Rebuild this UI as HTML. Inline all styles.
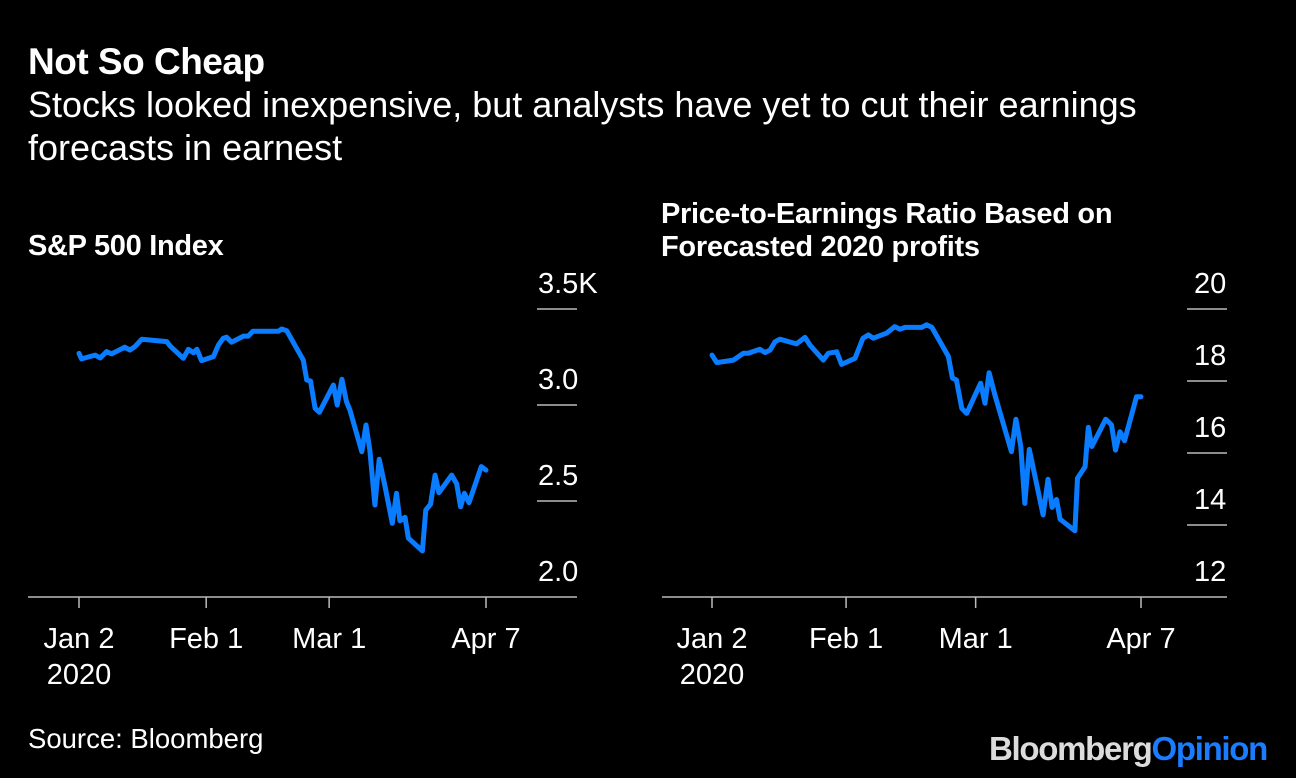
<!DOCTYPE html>
<html><head><meta charset="utf-8">
<style>
html,body{margin:0;padding:0;background:#000;}
body{width:1296px;height:778px;overflow:hidden;font-family:"Liberation Sans",sans-serif;color:#fff;position:relative;}
.t{position:absolute;white-space:nowrap;}
</style></head>
<body>
<div class="t" style="left:28px;top:41px;font-size:37px;font-weight:bold;letter-spacing:-0.5px;">Not So Cheap</div>
<div class="t" style="left:28px;top:83px;font-size:36px;line-height:43px;white-space:normal;width:1260px;">Stocks looked inexpensive, but analysts have yet to cut their earnings<br>forecasts in earnest</div>
<div class="t" style="left:28px;top:230px;font-size:29px;font-weight:bold;letter-spacing:-0.3px;">S&amp;P 500 Index</div>
<div class="t" style="left:661px;top:198px;font-size:29px;font-weight:bold;line-height:33px;letter-spacing:-0.3px;">Price-to-Earnings Ratio Based on<br>Forecasted 2020 profits</div>
<div class="t" style="left:28px;top:723px;font-size:27.5px;">Source: Bloomberg</div>
<div class="t" style="left:989px;top:730px;font-size:33px;font-weight:bold;letter-spacing:-1.3px;color:#dcdcdc;">Bloomberg<span style="color:#1a7cff">Opinion</span></div>
<svg id="svg" width="1296" height="778" style="position:absolute;left:0;top:0"></svg>
<script>
const spDays=[0,0.6,3.8,5,6.5,7.7,10.8,12,13.2,14.8,20.7,21.5,24.6,25.8,27,27.8,28.9,31.7,32.9,34,34.8,36,38.8,39.9,41,47,47.8,49,52.9,53.7,54.6,55.7,56.7,60,60.9,62,63.1,63.9,66.7,67.7,68.6,69.8,70.8,72.2,73.9,74.9,75.7,76.9,77.7,81,81.8,82.9,84,84.9,87.9,89.1,90,90.9,92,94.9,96];
const spValues=[3.269,3.240,3.260,3.245,3.278,3.266,3.301,3.286,3.304,3.342,3.330,3.307,3.243,3.290,3.272,3.290,3.231,3.252,3.313,3.347,3.353,3.327,3.359,3.359,3.384,3.384,3.396,3.387,3.234,3.130,3.125,2.983,2.962,3.104,3.000,3.134,3.017,2.974,2.757,2.896,2.766,2.479,2.717,2.574,2.384,2.540,2.397,2.415,2.306,2.240,2.453,2.483,2.635,2.543,2.635,2.589,2.470,2.540,2.491,2.679,2.661];
const peDays=[0,1.05,4.8,7,8.1,10.7,11.9,13,14.1,15.2,18.9,20.8,21.9,24.9,26,27.9,29,32,33.8,35,36.1,39.1,40.9,42.1,43.2,46.9,48,49.2,52.9,53.8,54.7,55.9,57,60.1,61.1,62,63.3,67,68,69.1,70,71,74.1,75.2,76.1,77.1,77.9,81.2,81.8,83.5,84.2,85,88.1,89.4,90.3,91.3,92.3,95,96];
const peValues=[18.72,18.51,18.58,18.77,18.77,18.88,18.79,18.86,19.09,19.16,19.03,19.21,19.0,18.58,18.77,18.81,18.46,18.63,19.19,19.28,19.19,19.33,19.51,19.44,19.49,19.49,19.56,19.49,18.68,18.08,18.03,17.24,17.10,17.94,17.38,18.23,17.61,16.04,16.94,16.18,14.60,16.10,14.28,15.27,14.49,14.71,14.16,13.84,15.30,15.62,16.71,16.18,16.94,16.78,16.08,16.59,16.34,17.56,17.56];
const xTickDays=[0,30,59,96];
const xTickLabels=["Jan 2","Feb 1","Mar 1","Apr 7"];
const spTicks=[2.0,2.5,3.0,3.5];
const spTickLabels=["2.0","2.5","3.0","3.5K"];
const peTicks=[12,14,16,18,20];
const peTickLabels=["12","14","16","18","20"];

const svg=document.getElementById('svg');
const NS='http://www.w3.org/2000/svg';
function mk(tag,attrs){const e=document.createElementNS(NS,tag);for(const k in attrs)e.setAttribute(k,attrs[k]);svg.appendChild(e);return e;}

function panel(p){
  const xs=d=>p.x0+(d/96)*(p.x1-p.x0);
  const ys=v=>p.yBase-(v-p.vMin)/(p.vMax-p.vMin)*(p.yBase-p.yTop);
  const base=mk('line',{x1:p.left,x2:p.right,y1:p.yBase,y2:p.yBase,stroke:'#bbb','stroke-width':1.5});
  
  
  p.ticks.forEach((v,i)=>{
    const y=ys(v);
    if(i>0){
      const g=mk('line',{x1:p.right-40,x2:p.right,y1:y,y2:y,stroke:'#bbb','stroke-width':1.5});
      
      
    }
    const t=mk('text',{x:p.right-p.labOff,y:y-16,'text-anchor':'start','font-size':29,fill:'#fff','font-family':'Liberation Sans, sans-serif'});
    t.textContent=p.labels[i];
    
    
  });
  xTickDays.forEach((d,i)=>{
    const x=xs(d);
    const tk=mk('line',{x1:x,x2:x,y1:p.yBase,y2:p.yBase+11,stroke:'#bbb','stroke-width':1.5});
    
    
    const t=mk('text',{x:x,y:p.yBase+51,'text-anchor':'middle','font-size':29,fill:'#fff','font-family':'Liberation Sans, sans-serif'});
    t.textContent=xTickLabels[i];
    
    
  });
  const yr=mk('text',{x:xs(0),y:p.yBase+87,'text-anchor':'middle','font-size':29,fill:'#fff','font-family':'Liberation Sans, sans-serif'});
  yr.textContent='2020';
  
  
  const pts=p.days.map((d,i)=>xs(d).toFixed(1)+','+ys(p.vals[i]).toFixed(1)).join(' ');
  const l=mk('polyline',{points:pts,fill:'none',stroke:'#0a7cff','stroke-width':5,'stroke-linejoin':'round','stroke-linecap':'round'});
  
  
}
panel({name:'sp500',left:28,right:577,x0:79,x1:486,yBase:597,yTop:309,vMin:2.0,vMax:3.5,ticks:spTicks,labels:spTickLabels,days:spDays,vals:spValues,labOff:39});
panel({name:'pe-ratio',left:662,right:1227,x0:712,x1:1141,yBase:597,yTop:309,vMin:12,vMax:20,ticks:peTicks,labels:peTickLabels,days:peDays,vals:peValues,labOff:33});
</script>
</body></html>
